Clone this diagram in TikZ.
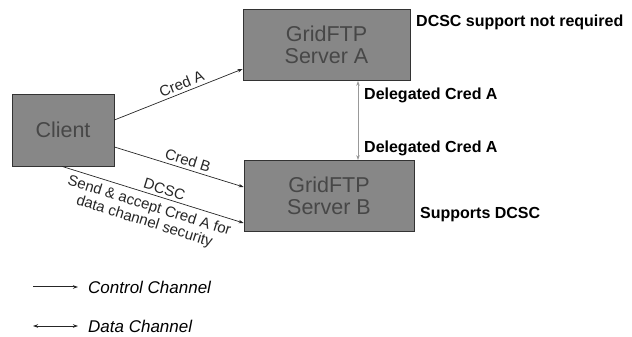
\documentclass[tikz,border=0pt]{standalone}
\usepackage{fontspec}
\setmainfont{Liberation Sans}
\usetikzlibrary{arrows.meta,calc}
\begin{document}
\begin{tikzpicture}[x=1pt,y=1pt,
  box/.style={draw=black!80,line width=0.8pt,fill=black!47,text=black!72,
    font=\fontsize{21.5}{22.5}\selectfont,align=center,inner sep=0pt},
  note/.style={font=\bfseries\fontsize{16}{17}\selectfont,anchor=west,inner sep=0pt},
  elabel/.style={font=\fontsize{15}{15}\selectfont,sloped,inner sep=1pt},
  ctrl/.style={line width=0.7pt,black!85,-{Stealth[length=5pt,width=3.5pt]}},
  data/.style={line width=0.7pt,black!40,{Stealth[length=5pt,width=3.5pt]}-{Stealth[length=5pt,width=3.5pt]}},
  legend/.style={font=\itshape\fontsize{17}{18}\selectfont,anchor=west,inner sep=0pt}]
\useasboundingbox (0,0) rectangle (632,337);

% boxes
\node[box,minimum width=102pt,minimum height=72pt] (client) at (63,207) {Client};
\node[box,minimum width=167pt,minimum height=71pt] (sa) at (326.5,292) {GridFTP\\Server A};
\node[box,minimum width=170pt,minimum height=71pt] (sb) at (329,141) {GridFTP\\Server B};

% side notes
\node[note] (na) at (416,315) {DCSC support not required};
\node[note] (nd1) at (364,242) {Delegated Cred A};
\node[note] (nd2) at (364,189) {Delegated Cred A};
\node[note] (nb) at (420,122) {Supports DCSC};

% connector end points on the box borders
\coordinate (ca) at ($(client.east)+(0,10)$);
\coordinate (cb) at ($(client.east)+(0,-17)$);
\coordinate (cd) at ($(client.south)+(-1,0)$);
\coordinate (sa1) at ($(sa.west)+(0,-24)$);
\coordinate (sb1) at ($(sb.west)+(0,9)$);
\coordinate (sb2) at ($(sb.west)+(0,-27)$);
\coordinate (sat) at ($(sa.south)+(31.5,0)$);
\coordinate (sbt) at ($(sb.north)+(29,0)$);

% control channel connectors
\draw[ctrl] (ca) -- node[elabel,above=2pt,pos=0.55] (la) {Cred A} (sa1);
\draw[ctrl] (cb) -- node[elabel,above=2pt,pos=0.55] (lb) {Cred B} (sb1);
\draw[ctrl] (cd) -- node[elabel,above=2pt,pos=0.55] (ld) {DCSC}
  node[elabel,below=4pt,pos=0.5,align=center,font=\fontsize{15}{16}\selectfont] (ls) {Send \& accept Cred A for\\data channel security} (sb2);

% data channel between the servers
\draw[data] (sat) -- (sbt);

% legend
\coordinate (l1s) at (33,50);
\coordinate (l1e) at (78,50);
\coordinate (l2s) at (33,11);
\coordinate (l2e) at (78,11);
\draw[ctrl,line width=1pt] (l1s) -- (l1e);
\draw[line width=0.8pt,black!85,{Stealth[length=5pt,width=3.5pt]}-{Stealth[length=5pt,width=3.5pt]}] (l2s) -- (l2e);
\node[legend] (lc) at (88,50) {Control Channel};
\node[legend] (ldc) at (88,11) {Data Channel};
\end{tikzpicture}
\end{document}
